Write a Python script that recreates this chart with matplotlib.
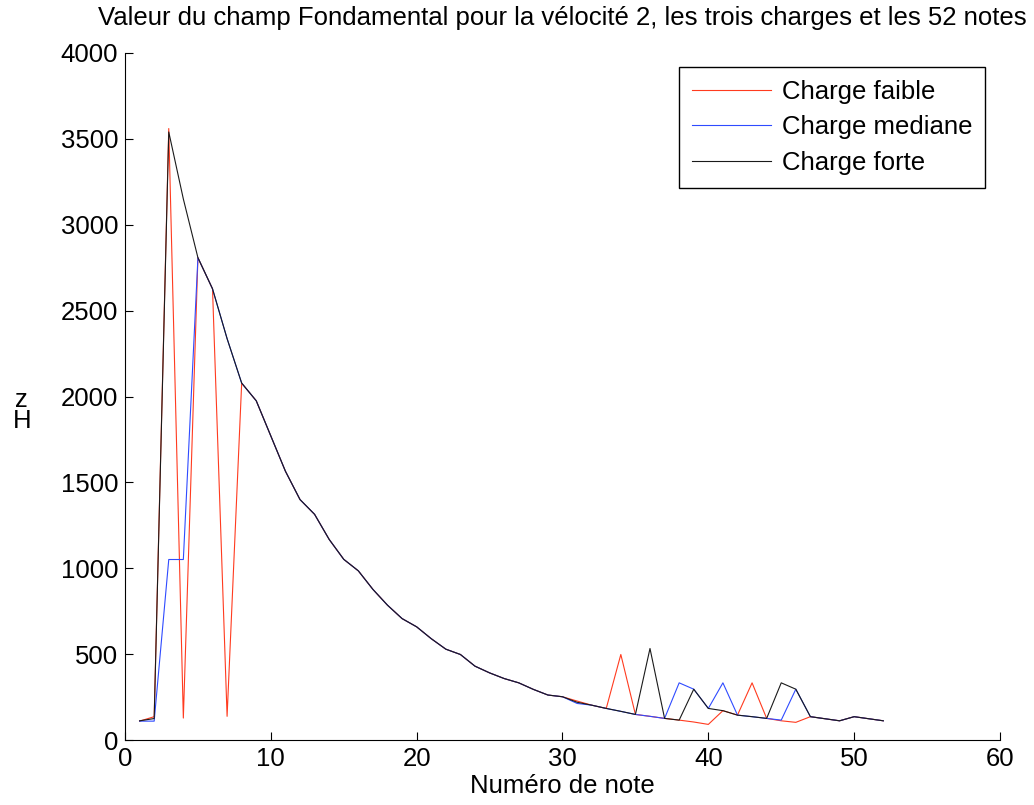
import numpy as np
import matplotlib
matplotlib.use("Agg")
import matplotlib.pyplot as plt

plt.rcParams["font.family"] = ["Liberation Sans", "DejaVu Sans"]

notes = np.arange(1, 53)

charge_forte = [
    112, 125, 3540, 3150, 2808, 2627, 2337, 2078, 1975, 1770,
    1565, 1400, 1314, 1168, 1052, 985, 877, 785, 707, 659,
    590, 529, 498, 430, 391, 358, 333, 295, 262, 252,
    220, 203, 184, 167, 149, 533, 126, 116, 296, 184,
    171, 145, 136, 126, 333, 296, 136, 124, 112, 136,
    124, 112,
]

charge_mediane = [
    110, 110, 1051, 1051, 2808, 2627, 2337, 2078, 1975, 1770,
    1565, 1400, 1314, 1168, 1052, 985, 877, 785, 707, 659,
    590, 529, 498, 430, 391, 358, 333, 295, 262, 252,
    213, 203, 184, 167, 149, 138, 126, 333, 296, 184,
    333, 145, 136, 126, 116, 296, 136, 124, 112, 136,
    124, 112,
]

charge_faible = [
    110, 136, 3560, 128, 2808, 2627, 138, 2078, 1975, 1770,
    1565, 1400, 1314, 1168, 1052, 985, 877, 785, 707, 659,
    590, 529, 498, 430, 391, 358, 333, 295, 262, 252,
    227, 203, 184, 498, 149, 138, 126, 116, 105, 91,
    171, 145, 333, 126, 112, 103, 136, 124, 112, 136,
    124, 112,
]

FS = 18.5

fig = plt.figure(figsize=(10.34, 8.05), dpi=100)
ax = fig.add_axes([0.1209, 0.0807, 0.8462, 0.8535])

ax.plot(notes, charge_faible, color="#ff3b1f", lw=0.8, label="Charge faible")
ax.plot(notes, charge_mediane, color="#2f4bff", lw=0.8, label="Charge mediane")
ax.plot(notes, charge_forte, color="#1a1a1a", lw=0.8, label="Charge forte")

ax.set_xlim(0, 60)
ax.set_ylim(0, 4000)
ax.set_xticks(np.arange(0, 61, 10))
ax.set_yticks(np.arange(0, 4001, 500))

for side in ["top", "right"]:
    ax.spines[side].set_visible(False)
ax.tick_params(direction="in", length=6, labelsize=FS, pad=5)

ax.set_title("Valeur du champ Fondamental pour la vélocité 2, les trois charges et les 52 notes",
             fontsize=FS, pad=20)
ax.set_xlabel("Numéro de note", fontsize=FS, labelpad=2)
fig.text(0.021, 0.49, "z\nH", fontsize=FS, ha="center", va="center", linespacing=0.85)

leg = ax.legend(loc="upper right", bbox_to_anchor=(0.983, 0.98), fontsize=FS,
                fancybox=False, edgecolor="black", handlelength=3.1,
                handletextpad=0.4, borderpad=0.5, labelspacing=0.45,
                borderaxespad=0.0, framealpha=1)
leg.get_frame().set_linewidth(1.0)

fig.savefig("out.png", dpi=100)
